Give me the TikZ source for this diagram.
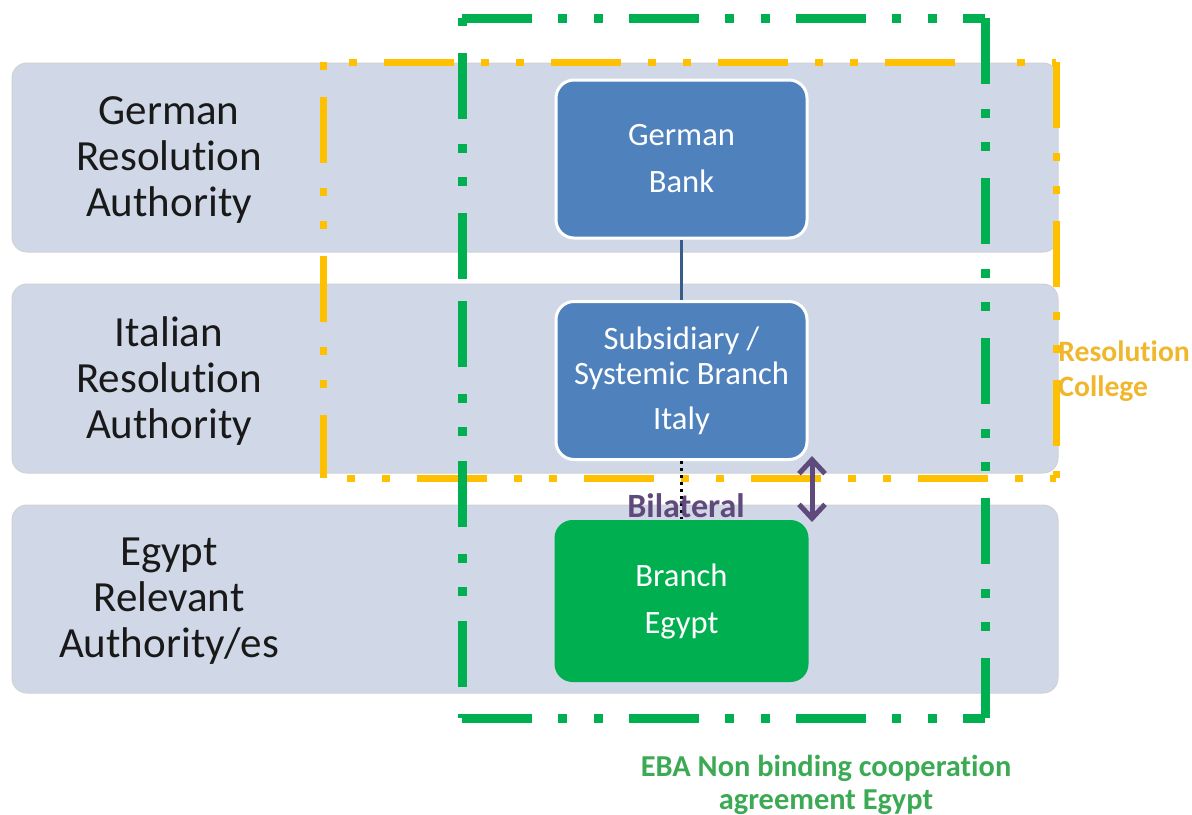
\documentclass[tikz,border=0pt]{standalone}
\usepackage{fontspec}
\setmainfont{Carlito}[Ligatures=NoCommon]
\usetikzlibrary{arrows.meta}
\definecolor{bandgray}{RGB}{208,216,232}
\definecolor{bankblue}{RGB}{79,129,189}
\definecolor{linkblue}{RGB}{56,93,138}
\definecolor{egyptgreen}{RGB}{0,176,80}
\definecolor{collegeyellow}{RGB}{255,192,0}
\definecolor{bilatpurple}{RGB}{96,74,123}
\definecolor{ebagreen}{RGB}{60,170,85}
\definecolor{collegetext}{RGB}{240,183,45}
\begin{document}
\begin{tikzpicture}[x=0.5pt,y=-0.5pt,
 band/.style={fill=bandgray,draw=black!18,line width=0.5pt,rounded corners=7.5pt},
 collegeh/.style={collegeyellow,line width=3.5pt,dash pattern=on 35pt off 13.5pt on 4pt off 13.5pt on 4pt off 13.5pt},
 collegev/.style={collegeyellow,line width=3.5pt,dash pattern=on 33pt off 12.5pt on 4pt off 12.5pt on 4pt off 13.5pt},
 ebah/.style={egyptgreen,line width=4.5pt,dash pattern=on 35pt off 13pt on 4.5pt off 13.5pt on 4.5pt off 13pt},
 ebav/.style={egyptgreen,line width=4.5pt,dash pattern=on 33pt off 12.5pt on 4.5pt off 12pt on 4.5pt off 13.5pt},
 authlabel/.style={align=center,text=black!90,font=\fontsize{21.5pt}{23pt}\selectfont},
 bankbox/.style={rectangle,rounded corners=9pt,fill=bankblue,draw=white,line width=1.5pt,text=white,align=center,minimum width=125.5pt,minimum height=79pt,font=\fontsize{16.3pt}{23.5pt}\selectfont}]
 \useasboundingbox (0,0) rectangle (1192,814);
 \draw[band](12,63) rectangle (1058,252);
 \draw[band](12,284) rectangle (1058,473);
 \draw[band](12,505) rectangle (1058,693);
 \draw[collegeh,dash phase=53pt](323,62)--(1056,62);
 \draw[collegeh,dash phase=36.5pt](323,478)--(1056,478);
 \draw[collegev](1056,62)--(1056,478);
 \draw[collegev,dash phase=62pt](323,62)--(323,478);
 \draw[ebah](462,18)--(985,18);
 \draw[ebah](462,718)--(985,718);
 \draw[ebav](985,18)--(985,718);
 \draw[ebav,dash phase=62.5pt](462,18)--(462,290);
 \draw[ebav,dash phase=64.5pt](462,718)--(462,290);
 \node[authlabel] (deauth) at (169,160) {German\\Resolution\\Authority};
 \node[authlabel] (itauth) at (169,381) {Italian\\Resolution\\Authority};
 \node[authlabel] (egauth) at (169,601) {Egypt\\Relevant\\Authority/es};
 \node[bankbox] (gbank) at (681.5,159) {German\\Bank};
 \node[bankbox,font=\fontsize{16.3pt}{17.5pt}\selectfont] (subit) at (681.5,380.5) {Subsidiary /\\Systemic Branch\\[5pt]Italy};
 \node[bankbox,fill=egyptgreen,draw=none,minimum width=127pt,minimum height=81pt] (bregypt) at (681.5,601) {Branch\\Egypt};
 \draw[linkblue,line width=1.5pt](gbank)--(subit);
 \draw[black,line width=1.5pt,dotted](subit)--(bregypt);
 \node[text=bilatpurple,font=\fontsize{17pt}{19pt}\selectfont\bfseries] (bilat) at (686,506) {Bilateral};
 \coordinate (bitop) at (812,456);
 \coordinate (bibot) at (812,522);
 \draw[bilatpurple,line width=2.5pt,{Straight Barb[length=7pt,width=13pt]}-{Straight Barb[length=7pt,width=13pt]}](bitop)--(bibot);
 \node[anchor=west,inner sep=0pt,align=left,text=collegetext,font=\fontsize{14.8pt}{17.5pt}\selectfont\bfseries] (college) at (1058,371) {Resolution\\College};
 \node[align=center,text=ebagreen,font=\fontsize{15.2pt}{16.5pt}\selectfont\bfseries] (ebaagr) at (826,785) {EBA Non binding cooperation\\agreement Egypt};
\end{tikzpicture}
\end{document}
